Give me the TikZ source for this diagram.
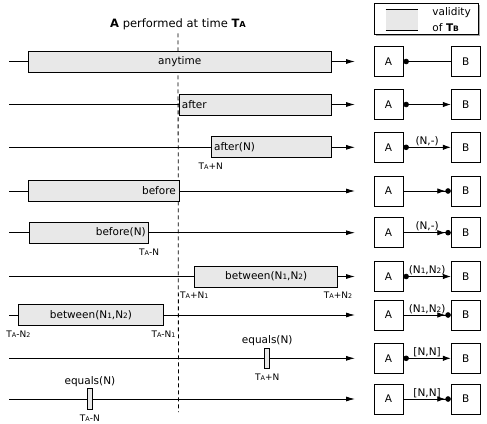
\documentclass[tikz,border=0pt]{standalone}
\usepackage{fontspec}
\setmainfont{DejaVu Sans}
\usetikzlibrary{arrows.meta,positioning,shadows}
\newcommand{\Tsub}[1]{T\scalebox{0.72}{#1}}
\newcommand{\Nsub}[1]{N\scalebox{0.7}{#1}}

\begin{document}
\begin{tikzpicture}[
x=1pt, y=-1pt,
line width=0.8pt,
every node/.style={font=\fontsize{10.5}{13}\selectfont},
validity/.style={draw, fill=gray!18, minimum height=21pt, inner sep=3pt, anchor=west},
timelabel/.style={font=\fontsize{9}{11}\selectfont, inner sep=0.5pt},
event/.style={draw, minimum width=29pt, minimum height=30pt},
timeline/.style={-{Latex[length=9pt,width=5pt]}},
dot/.style={{Circle[length=5.5pt]}-},
dotarrow/.style={{Circle[length=5.5pt]}-{Latex[length=8pt,width=5.5pt]}},
arrowdot/.style={-{Latex[length=8pt,width=5.5pt] Circle[length=5.5pt]}}
]
\useasboundingbox (0,0) rectangle (487,423);

% title and the time of A
\node[font=\fontsize{11.5}{14}\selectfont] (title) at (178,24) {\textbf{A} performed at time \textbf{\Tsub{A}}};
\coordinate (tabottom) at (178.5,412);
\draw[dashed, dash pattern=on 4pt off 3pt] (title) -- (tabottom);

% legend
\node[draw, fill=white, drop shadow={shadow xshift=2pt, shadow yshift=-2pt, fill=gray!70, opacity=1}, minimum width=104pt, minimum height=31pt] (legend) at (426,18.5) {};
\node[fill=gray!18, minimum width=32pt, minimum height=20pt, inner sep=0pt] (sample) at (402,19.5) {};
\draw (sample.north west) -- (sample.north east);
\draw (sample.south west) -- (sample.south east);
\node[align=left, anchor=west, inner sep=0pt, font=\fontsize{10.5}{16}\selectfont] (legendtext) at (432,20) {validity\\of \textbf{\Tsub{B}}};

% time lines
\coordinate (s1) at (9,61.5);   \coordinate (e1) at (355,61.5);
\coordinate (s2) at (9,104.5);  \coordinate (e2) at (355,104.5);
\coordinate (s3) at (9,147.3);  \coordinate (e3) at (355,147.3);
\coordinate (s4) at (9,191);    \coordinate (e4) at (355,191);
\coordinate (s5) at (9,232.7);  \coordinate (e5) at (355,232.7);
\coordinate (s6) at (9,276.5);  \coordinate (e6) at (355,276.5);
\coordinate (s7) at (9,315);    \coordinate (e7) at (355,315);
\coordinate (s8) at (9,358.3);  \coordinate (e8) at (355,358.3);
\coordinate (s9) at (9,399);    \coordinate (e9) at (355,399);

\node[validity, minimum width=303.3pt] (anytime) at (27.7,61.5) {anytime};
\node[validity, text width=146.7pt, align=left] (after) at (178.5,104.5) {after};
\node[validity, text width=114.3pt, align=left] (aftern) at (210.7,147.3) {after(N)};
\node[validity, text width=144.8pt, align=right] (before) at (27.7,191) {before};
\node[validity, text width=113.3pt, align=right] (beforen) at (29,232.7) {before(N)};
\node[validity, minimum width=143pt] (between) at (194.3,276.5) {between(\Nsub{1},\Nsub{2})};
\node[validity, minimum width=144.4pt] (betweenb) at (18.3,315) {between(\Nsub{1},\Nsub{2})};
\node[validity, minimum width=5pt, minimum height=20.6pt, inner sep=0pt] (equals) at (264.3,358.3) {};
\node[validity, minimum width=5.6pt, minimum height=20.6pt, inner sep=0pt] (equalsb) at (86.7,399) {};

\draw (s1) -- (anytime);  \draw[timeline] (anytime) -- (e1);
\draw (s2) -- (after);    \draw[timeline] (after) -- (e2);
\draw (s3) -- (aftern);   \draw[timeline] (aftern) -- (e3);
\draw (s4) -- (before);   \draw[timeline] (before) -- (e4);
\draw (s5) -- (beforen);  \draw[timeline] (beforen) -- (e5);
\draw (s6) -- (between);  \draw[timeline] (between) -- (e6);
\draw (s7) -- (betweenb); \draw[timeline] (betweenb) -- (e7);
\draw (s8) -- (equals);   \draw[timeline] (equals) -- (e8);
\draw (s9) -- (equalsb);  \draw[timeline] (equalsb) -- (e9);

% times below the bars
\node[timelabel, below=4pt] (taftern) at (aftern.south west) {\Tsub{A}+N};
\node[timelabel, below=4pt] (tbeforen) at (beforen.south east) {\Tsub{A}-N};
\node[timelabel, below=4pt] (tbetween1) at (between.south west) {\Tsub{A}+\Nsub{1}};
\node[timelabel, below=4pt] (tbetween2) at (between.south east) {\Tsub{A}+\Nsub{2}};
\node[timelabel, below=4pt] (tbetweenb2) at (betweenb.south west) {\Tsub{A}-\Nsub{2}};
\node[timelabel, below=4pt] (tbetweenb1) at (betweenb.south east) {\Tsub{A}-\Nsub{1}};
\node[timelabel, below=4pt] (tequals) at (equals.south) {\Tsub{A}+N};
\node[timelabel, below=4pt] (tequalsb) at (equalsb.south) {\Tsub{A}-N};
\node[above=1pt, inner sep=0.5pt] (lequals) at (equals.north) {equals(N)};
\node[above=1pt, inner sep=0.5pt] (lequalsb) at (equalsb.north) {equals(N)};

% A and B
\node[event] (a1) at (388.5,61.5) {A};  \node[event, right=47.4pt of a1] (b1) {B};
\node[event] (a2) at (388.5,104.5) {A}; \node[event, right=47.4pt of a2] (b2) {B};
\node[event] (a3) at (388.5,147.3) {A}; \node[event, right=47.4pt of a3] (b3) {B};
\node[event] (a4) at (388.5,191) {A};   \node[event, right=47.4pt of a4] (b4) {B};
\node[event] (a5) at (388.5,232.7) {A}; \node[event, right=47.4pt of a5] (b5) {B};
\node[event] (a6) at (388.5,276.5) {A}; \node[event, right=47.4pt of a6] (b6) {B};
\node[event] (a7) at (388.5,315) {A};   \node[event, right=47.4pt of a7] (b7) {B};
\node[event] (a8) at (388.5,358.3) {A}; \node[event, right=47.4pt of a8] (b8) {B};
\node[event] (a9) at (388.5,399) {A};   \node[event, right=47.4pt of a9] (b9) {B};

\draw[dot] (a1) -- (b1);
\draw[dotarrow] (a2) -- (b2);
\draw[dotarrow] (a3) -- node[above, inner sep=1pt] {(N,-)} (b3);
\draw[arrowdot] (a4) -- (b4);
\draw[arrowdot] (a5) -- node[above, inner sep=1pt] {(N,-)} (b5);
\draw[dotarrow] (a6) -- node[above, inner sep=1pt] {(\Nsub{1},\Nsub{2})} (b6);
\draw[arrowdot] (a7) -- node[above, inner sep=1pt] {(\Nsub{1},\Nsub{2})} (b7);
\draw[dotarrow] (a8) -- node[above, inner sep=1pt] {[N,N]} (b8);
\draw[arrowdot] (a9) -- node[above, inner sep=1pt] {[N,N]} (b9);
\end{tikzpicture}
\end{document}
